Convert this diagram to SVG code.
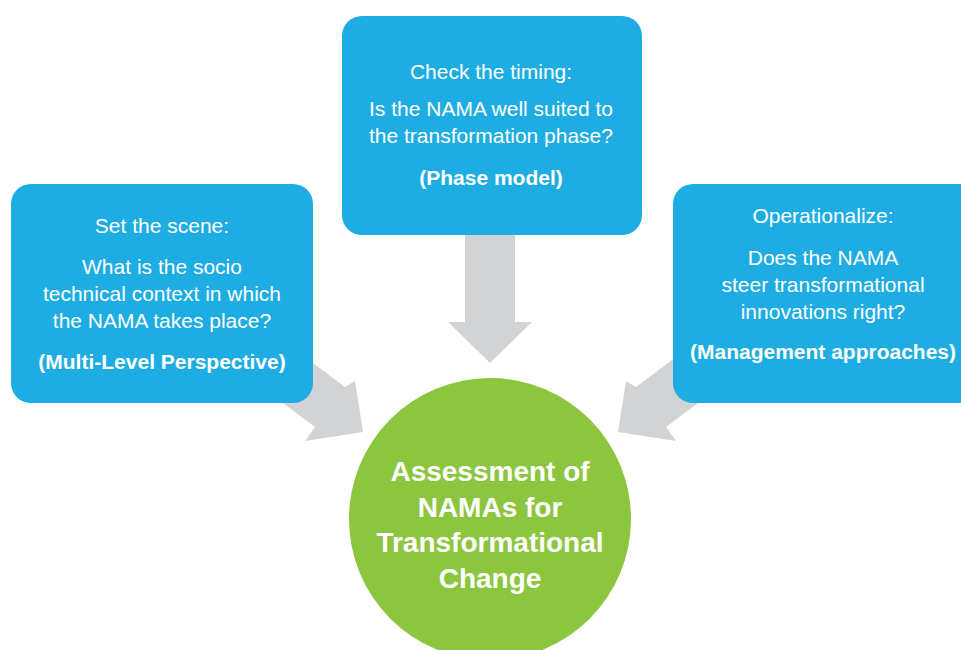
<svg xmlns="http://www.w3.org/2000/svg" width="961" height="650" viewBox="0 0 961 650">
<style>
.box{fill:#1eade3}
.arrow{fill:#d1d3d4}
.t{font-family:"Liberation Sans",Arial,Helvetica,sans-serif;font-size:21px;fill:#ffffff;text-anchor:middle}
.b{font-weight:bold}
.c{font-family:"Liberation Sans",Arial,Helvetica,sans-serif;font-size:28px;font-weight:bold;fill:#ffffff;text-anchor:middle}
</style>
<rect width="961" height="650" fill="#ffffff"/>
<g id="connectors">
<polygon class="arrow" points="465,200 515,200 515,322 532,322 490,363 448,322 465,322"/>
<polygon class="arrow" points="225,297 345,387 355,381 363,432 305,441 315,427 195,337"/>
<polygon class="arrow" points="756,297 636,387 626,381 618,432 676,441 666,427 786,337"/>
</g>
<g id="node-phase">
<rect class="box" x="342" y="16" width="300" height="219" rx="20"/>
<text class="t" x="491" y="79">Check the timing:</text>
<text class="t" x="491" y="116">Is the NAMA well suited to</text>
<text class="t" x="491" y="143">the transformation phase?</text>
<text class="t b" x="491" y="185">(Phase model)</text>
</g>
<g id="node-mlp">
<rect class="box" x="11" y="184" width="302" height="219" rx="20"/>
<text class="t" x="162" y="233">Set the scene:</text>
<text class="t" x="162" y="274">What is the socio</text>
<text class="t" x="162" y="301">technical context in which</text>
<text class="t" x="162" y="328">the NAMA takes place?</text>
<text class="t b" x="162" y="369">(Multi-Level Perspective)</text>
</g>
<g id="node-management">
<rect class="box" x="673" y="184" width="310" height="219" rx="20"/>
<text class="t" x="823" y="223">Operationalize:</text>
<text class="t" x="823" y="265">Does the NAMA</text>
<text class="t" x="823" y="292">steer transformational</text>
<text class="t" x="823" y="319">innovations right?</text>
<text class="t b" x="823" y="359" font-size="21.5">(Management approaches)</text>
</g>
<g id="node-assessment">
<circle cx="490" cy="519" r="141" fill="#8cc63f"/>
<text class="c" x="490" y="481">Assessment of</text>
<text class="c" x="490" y="517">NAMAs for</text>
<text class="c" x="490" y="552">Transformational</text>
<text class="c" x="490" y="588">Change</text>
</g>
</svg>
